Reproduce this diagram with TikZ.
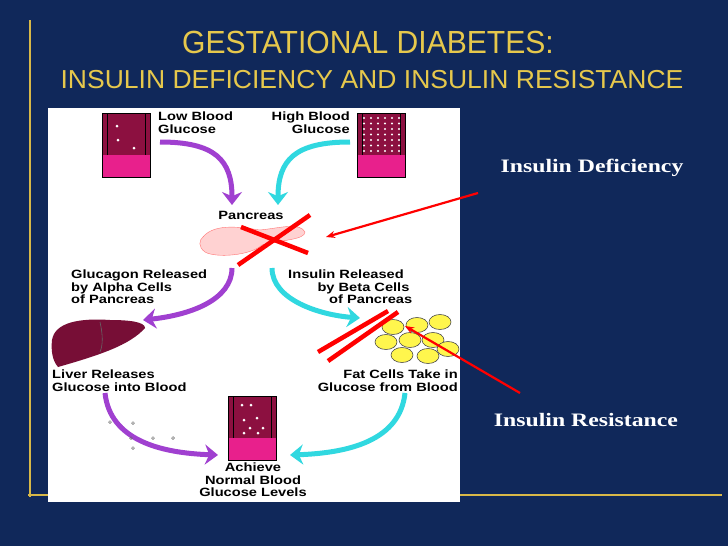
\documentclass[tikz,border=0pt]{standalone}
\usepackage{fontspec}
\setmainfont{Liberation Sans}
\newfontfamily\serifb{Liberation Serif}
\usetikzlibrary{arrows.meta}
\definecolor{navy}{HTML}{10285A}
\definecolor{gold}{HTML}{D8B848}
\definecolor{titlec}{HTML}{E6C84C}
\definecolor{purp}{HTML}{A040D0}
\definecolor{cyanc}{HTML}{30D8E0}
\definecolor{tubered}{HTML}{8C1040}
\definecolor{tubepink}{HTML}{E8208C}
\begin{document}
\begin{tikzpicture}[x=1pt,y=-1pt,
  lbl/.style={font=\bfseries\fontsize{12}{12.5}\selectfont, align=left, inner sep=0, xscale=1.22},
  side/.style={font=\serifb\bfseries\fontsize{19}{20}\selectfont, text=white, inner sep=0, xscale=1.25},
  parr/.style={purp, line width=5pt, -{Stealth[length=13pt,width=20pt]}},
  carr/.style={cyanc, line width=5pt, -{Stealth[length=13pt,width=20pt]}},
  redx/.style={red, line width=4.5pt},
  redarr/.style={red, line width=2.2pt, -{Stealth[length=9pt,width=7pt]}}]
\fill[navy] (0,0) rectangle (728,546);
\useasboundingbox (0,0) rectangle (728,546);
\draw[gold, line width=1.3pt] (30,20) -- (30,497) (28,495) -- (722,495);
\node[text=titlec, font=\fontsize{32}{34}\selectfont, xscale=0.94] (t1) at (368,42) {GESTATIONAL DIABETES:};
\node[text=titlec, font=\fontsize{26}{28}\selectfont, xscale=1.02] (t2) at (372,80) {INSULIN DEFICIENCY AND INSULIN RESISTANCE};
\fill[white] (48,108) rectangle (460,502);
% tubes
\newcommand\tube[3]{%
 \fill[tubered] (#1,#2) rectangle ++(48,42);
 \fill[tubepink] (#1,#2+42) rectangle ++(48,22);
 \draw[black, line width=0.6pt] (#1,#2) rectangle ++(48,64);
 \draw[black, line width=0.4pt] (#1+5,#2) -- (#1+5,#2+42) (#1+43,#2) -- (#1+43,#2+42);}
\tube{102}{113}{}
\tube{357}{113}{}
\tube{228}{396}{}
\foreach \p in {(117,126),(118,140),(134,148)} \fill[white] \p circle (1.5);
\foreach \i in {0,...,5}\foreach \j in {0,...,6} \fill[white] ({364+\i*7},{118+\j*5.5}) circle (1.1);
\foreach \p in {(242,405),(251,405),(244,420),(257,418),(250,428),(263,428),(244,433),(258,433)} \fill[white] \p circle (1.5);
% texts
\node[lbl, anchor=north west] (lb) at (158,112) {Low Blood\\Glucose};
\node[lbl, align=right, anchor=north east] (hb) at (350,112) {High Blood\\\hspace*{0pt}Glucose};
\node[lbl] (pan) at (251,215) {Pancreas};
\node[lbl, anchor=north west] (glu) at (71,270) {Glucagon Released\\by Alpha Cells\\of Pancreas};
\node[lbl, anchor=north west] (ins) at (288,270) {Insulin Released\\\hspace*{2em}by Beta Cells\\\hspace*{2.8em}of Pancreas};
\node[lbl, anchor=north west] (liv) at (52,370) {Liver Releases\\Glucose into Blood};
\node[lbl, align=right, anchor=north east] (fat) at (458,370) {Fat Cells Take in\\Glucose from Blood};
\node[lbl, align=center, anchor=north] (ach) at (253,463) {Achieve\\Normal Blood\\Glucose Levels};
% pancreas
\fill[pink!70!white, draw=pink!60!red, line width=0.4pt] (203,237) .. controls (215,222) and (245,228) .. (260,230) .. controls (280,228) and (300,222) .. (305,232) .. controls (305,240) and (280,240) .. (262,245) .. controls (250,256) and (215,258) .. (205,252) .. controls (198,247) and (199,240) .. (203,237) -- cycle;
% liver
\fill[tubered!85!black] (52,340) .. controls (55,322) and (80,318) .. (110,320) .. controls (130,320) and (145,322) .. (145,328) .. controls (130,345) and (100,355) .. (58,367) .. controls (52,360) and (51,350) .. (52,340) -- cycle;
\draw[black!60, line width=0.6pt] (100,322) .. controls (103,335) and (103,345) .. (100,352);
% fat cells
\foreach \x/\y in {393/327,417/325,440/322,386/342,410/340,433/340,402/355,428/356,448/349}
  \fill[yellow!70!white, draw=black!70, line width=0.6pt] (\x,\y) ellipse (11 and 7.5);
% flow arrows
\draw[parr] (160,142) .. controls (215,142) and (232,160) .. (232,205);
\draw[carr] (350,142) .. controls (295,142) and (278,160) .. (278,205);
\draw[parr] (232,268) .. controls (232,300) and (190,315) .. (143,320);
\draw[carr] (272,268) .. controls (272,300) and (320,315) .. (360,318);
\draw[parr] (105,393) .. controls (110,440) and (160,453) .. (218,455);
\draw[carr] (405,393) .. controls (400,440) and (350,453) .. (290,455);
\foreach \p in {(110,422),(133,423),(131,438),(153,438),(133,448),(173,438)} \draw[black!60, line width=0.5pt] \p circle (1.4);
% red marks
\draw[redx] (241,227) -- (308,253);
\draw[redx] (238,265) -- (310,215);
\draw[redx] (318,352) -- (388,311);
\draw[redx] (328,361) -- (398,312);
\coordinate (da) at (478,193);
\coordinate (db) at (326,237);
\coordinate (ra) at (520,393);
\coordinate (rb) at (405,326);
\draw[redarr] (da) -- (db);
\draw[redarr] (ra) -- (rb);
\node[side] (def) at (592,168) {Insulin Deficiency};
\node[side] (res) at (586,420) {Insulin Resistance};
\end{tikzpicture}
\end{document}
